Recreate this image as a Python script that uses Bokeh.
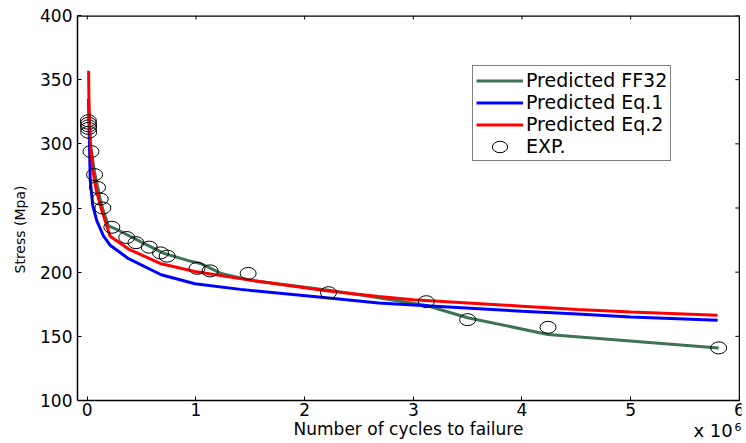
import math
from bokeh.plotting import figure
from bokeh.models import Range1d, Legend, LegendItem, Label, FixedTicker
from bokeh.embed import file_html
from bokeh.resources import INLINE

# Experimental data (cycles in units of 1e6, stress in MPa)
exp_x = [0.010, 0.011, 0.012, 0.012, 0.013, 0.034, 0.067, 0.094, 0.119, 0.143,
         0.226, 0.363, 0.448, 0.570, 0.674, 0.735, 1.01, 1.13, 1.48, 2.22,
         3.12, 3.50, 4.24, 5.81]
exp_y = [318, 316, 314, 312, 309, 294, 276, 266, 257, 250,
         235, 227, 223, 219.5, 215, 212.5, 203, 201, 199, 184,
         177, 163, 157, 141]

# Predicted FF32
ff_x = [0.034, 0.067, 0.094, 0.119, 0.143, 0.195, 0.29, 0.53, 0.71, 0.93,
        1.05, 1.23, 1.51, 2.22, 2.68, 3.12, 3.50, 4.24, 5.81]
ff_y = [296, 278, 267, 257, 249, 236, 232.5, 222, 214.5, 209,
        206.5, 199, 193.6, 186, 180, 174, 164.5, 151.5, 141]

# Predicted Eq.1
eq1_x = [0.012, 0.02, 0.027, 0.05, 0.088, 0.15, 0.21, 0.38, 0.68, 0.99,
         1.41, 2.2, 2.68, 3.0, 4.0, 4.51, 5.0, 5.8]
eq1_y = [335, 300, 272, 252, 240, 228, 221, 210.5, 198, 191,
         186.6, 180, 176, 174.5, 169.5, 167.5, 165, 162.5]

# Predicted Eq.2
eq2_x = [0.012, 0.015, 0.02, 0.03, 0.05, 0.08, 0.12, 0.21, 0.38, 0.68,
         0.99, 1.51, 2.2, 2.68, 3.0, 4.0, 4.51, 5.0, 5.8]
eq2_y = [357, 335, 318, 300, 280, 265, 252, 228, 218, 206.5,
         200.5, 193.6, 185.5, 181, 178.5, 173.5, 171, 169, 166.5]

x_ticks = [0, 1, 2, 3, 4, 5, 6]
y_ticks = [100, 150, 200, 250, 300, 350, 400]
x_lo, x_hi = -0.09, 6          # axis extent
y_lo, y_hi = 100, 400
view_x = (-0.09, 6.02)         # visible x range
view_y = (66.5, 400)           # visible y range (room below the axis for labels)

FONT = "DejaVu Sans"

p = figure(width=746, height=443, x_range=Range1d(*view_x), y_range=Range1d(*view_y),
           output_backend="svg", toolbar_location=None,
           min_border_left=77, min_border_right=5, min_border_top=15, min_border_bottom=0)
p.outline_line_color = None
p.grid.visible = False
p.background_fill_color = "white"
p.border_fill_color = "white"

p.xaxis.ticker = FixedTicker(ticks=x_ticks)
p.yaxis.ticker = FixedTicker(ticks=y_ticks)

for ax in p.axis:
    ax.major_tick_in = 4
    ax.major_tick_out = 0
    ax.minor_tick_line_color = None
    ax.axis_line_color = "black"
    ax.axis_line_width = 1.5
    ax.major_tick_line_color = "black"
    ax.major_label_text_font = FONT
    ax.major_label_text_font_size = "17px"
    ax.major_label_text_color = "black"
    ax.axis_label_text_color = "black"
    ax.axis_label_text_font = FONT
    ax.axis_label_text_font_style = "normal"

xb = p.xaxis[0]
xb.fixed_location = y_lo
xb.bounds = (x_lo, x_hi)
xb.axis_label = "Number of cycles to failure"
xb.axis_label_text_font_size = "17px"
xb.major_label_standoff = 2
xb.axis_label_standoff = 0

yl = p.yaxis[0]
yl.bounds = (y_lo, y_hi)
yl.axis_label = "Stress (Mpa)"
yl.axis_label_text_font_size = "14px"
yl.major_label_standoff = 5
yl.axis_label_standoff = 9

# top and right frame edges with inward tick marks
p.segment(x0=[x_lo], y0=[y_hi], x1=[x_hi], y1=[y_hi], line_color="black", line_width=2.4)
p.segment(x0=[x_hi], y0=[y_lo], x1=[x_hi], y1=[y_hi], line_color="black", line_width=1.2)
p.ray(x=x_ticks, y=[y_hi] * len(x_ticks), length=4, length_units="screen",
      angle=-math.pi / 2, line_color="black", line_width=1)
p.ray(x=[x_hi] * len(y_ticks), y=y_ticks, length=4, length_units="screen",
      angle=math.pi, line_color="black", line_width=1)

r_ff = p.line(ff_x, ff_y, line_color="#3f7355", line_width=3)
r_e1 = p.line(eq1_x, eq1_y, line_color="#0000ff", line_width=3)
r_e2 = p.line(eq2_x, eq2_y, line_color="#ff0000", line_width=3)
r_exp = p.ellipse(exp_x, exp_y, width=16, height=12, width_units="screen", height_units="screen",
                  fill_color=None, line_color="black", line_width=1)

legend = Legend(items=[
    LegendItem(label="Predicted FF32", renderers=[r_ff]),
    LegendItem(label="Predicted Eq.1", renderers=[r_e1]),
    LegendItem(label="Predicted Eq.2", renderers=[r_e2]),
    LegendItem(label="EXP.", renderers=[r_exp]),
], location=(395, 282))
legend.border_line_color = "black"
legend.border_line_width = 1
legend.background_fill_color = "white"
legend.background_fill_alpha = 1
legend.padding = 3
legend.margin = 0
legend.spacing = 0
legend.label_standoff = 3
legend.glyph_width = 47
legend.glyph_height = 19
legend.label_height = 19
legend.label_text_font = FONT
legend.label_text_font_size = "19px"
legend.label_text_line_height = 0.9
legend.label_text_color = "black"
p.add_layout(legend, "center")

# "x 10^6" multiplier below the right end of the x axis
p.add_layout(Label(x=5.578, y=68.8, text="x 10",
                   text_font=FONT, text_font_size="18px", text_color="black"))
p.add_layout(Label(x=5.955, y=76.6, text="6",
                   text_font=FONT, text_font_size="11px", text_color="black"))

open("out.html", "w").write(file_html(p, INLINE))
